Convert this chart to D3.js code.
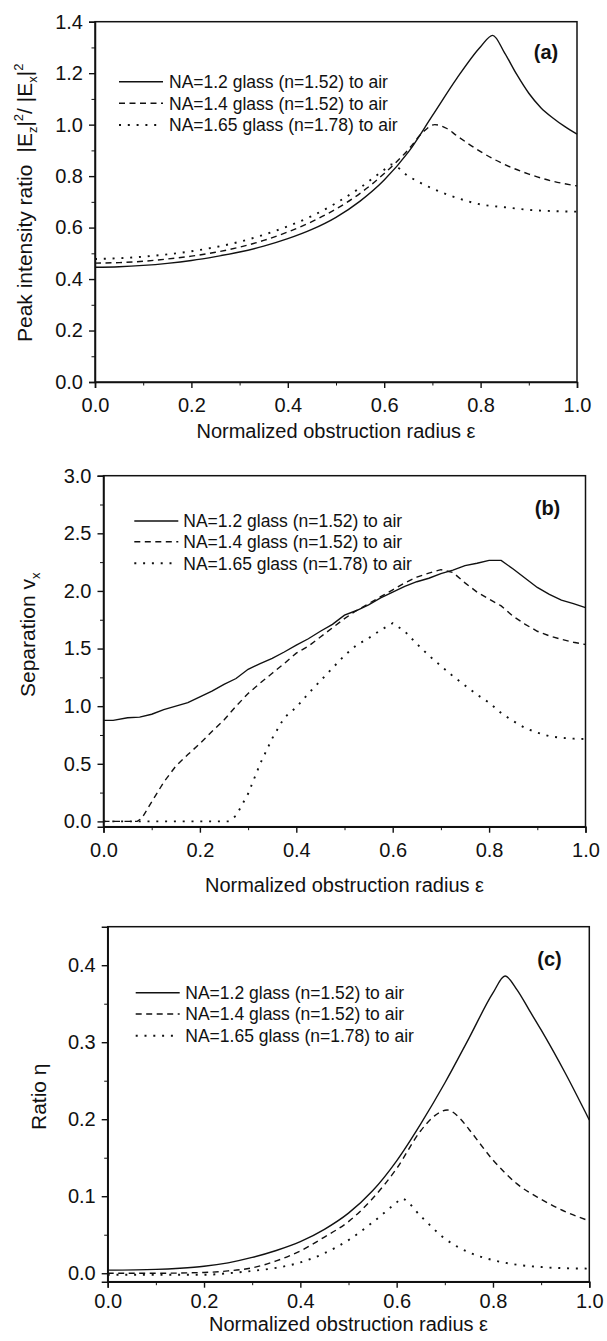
<!DOCTYPE html>
<html>
<head>
<meta charset="utf-8">
<script src="https://cdn.jsdelivr.net/npm/d3@7"></script>
<style>
  body { margin: 0; background: #fff; }
  svg { display: block; font-family: "Liberation Sans", Arial, sans-serif; }
  .axis path, .axis line { stroke: #111; }
  .axis text { font-size: 20px; fill: #111; }
</style>
</head>
<body>
<svg id="fig" width="607" height="1341"></svg>
<script>
// legend labels, shared by the three panels
var seriesNames = ["NA=1.2 glass (n=1.52) to air", "NA=1.4 glass (n=1.52) to air", "NA=1.65 glass (n=1.78) to air"];
var xTicks = [0, 0.2, 0.4, 0.6, 0.8, 1.0];
var xMinor = [0.1, 0.3, 0.5, 0.7, 0.9];

// (a) peak intensity ratio
var aSolidX = [0, 0.05, 0.1, 0.15, 0.2, 0.25, 0.3, 0.35, 0.4, 0.45, 0.5, 0.55, 0.6, 0.65, 0.7, 0.75, 0.8, 0.825, 0.85, 0.875, 0.9, 0.925, 0.95, 0.975, 1.0];
var aSolidY = [0.446, 0.448, 0.453, 0.461, 0.472, 0.487, 0.505, 0.528, 0.557, 0.593, 0.640, 0.703, 0.785, 0.893, 1.035, 1.178, 1.303, 1.347, 1.278, 1.195, 1.122, 1.066, 1.026, 0.992, 0.963];
var aDashX = [0, 0.05, 0.1, 0.15, 0.2, 0.25, 0.3, 0.35, 0.4, 0.45, 0.5, 0.55, 0.6, 0.65, 0.68, 0.705, 0.73, 0.75, 0.8, 0.85, 0.9, 0.95, 1.0];
var aDashY = [0.462, 0.464, 0.469, 0.478, 0.489, 0.504, 0.524, 0.550, 0.583, 0.623, 0.672, 0.733, 0.810, 0.903, 0.970, 1.000, 0.985, 0.958, 0.895, 0.845, 0.808, 0.780, 0.762];
var aDotX = [0, 0.05, 0.1, 0.15, 0.2, 0.25, 0.3, 0.35, 0.4, 0.45, 0.5, 0.55, 0.6, 0.615, 0.65, 0.7, 0.75, 0.8, 0.85, 0.9, 0.95, 1.0];
var aDotY = [0.478, 0.481, 0.487, 0.496, 0.508, 0.524, 0.545, 0.572, 0.605, 0.645, 0.695, 0.755, 0.825, 0.845, 0.800, 0.752, 0.716, 0.690, 0.679, 0.669, 0.664, 0.662];
var aYTicks = [0, 0.2, 0.4, 0.6, 0.8, 1.0, 1.2, 1.4];
var aYMinor = [0.1, 0.3, 0.5, 0.7, 0.9, 1.1, 1.3];

// (b) separation
var bSolidX = [0, 0.02, 0.05, 0.075, 0.1, 0.125, 0.15, 0.175, 0.2, 0.225, 0.25, 0.275, 0.3, 0.325, 0.35, 0.375, 0.4, 0.425, 0.45, 0.475, 0.5, 0.525, 0.55, 0.575, 0.6, 0.625, 0.65, 0.675, 0.7, 0.725, 0.75, 0.775, 0.8, 0.825, 0.85, 0.875, 0.9, 0.925, 0.95, 0.975, 1.0];
var bSolidY = [0.877, 0.877, 0.900, 0.905, 0.930, 0.970, 1.000, 1.030, 1.080, 1.130, 1.190, 1.240, 1.320, 1.370, 1.415, 1.470, 1.530, 1.585, 1.650, 1.710, 1.790, 1.830, 1.880, 1.940, 1.990, 2.040, 2.080, 2.110, 2.150, 2.180, 2.220, 2.240, 2.265, 2.265, 2.190, 2.110, 2.030, 1.970, 1.920, 1.890, 1.855];
var bDashX = [0, 0.07, 0.08, 0.1, 0.125, 0.15, 0.175, 0.2, 0.225, 0.25, 0.275, 0.3, 0.325, 0.35, 0.375, 0.4, 0.425, 0.45, 0.475, 0.5, 0.525, 0.55, 0.575, 0.6, 0.625, 0.65, 0.675, 0.7, 0.725, 0.75, 0.775, 0.8, 0.825, 0.85, 0.875, 0.9, 0.925, 0.95, 0.975, 1.0];
var bDashY = [0, 0, 0.03, 0.17, 0.34, 0.48, 0.58, 0.675, 0.78, 0.88, 1.00, 1.11, 1.20, 1.285, 1.37, 1.46, 1.52, 1.60, 1.68, 1.76, 1.83, 1.89, 1.95, 2.01, 2.07, 2.12, 2.155, 2.185, 2.16, 2.07, 1.99, 1.93, 1.87, 1.78, 1.71, 1.65, 1.61, 1.58, 1.555, 1.535];
var bDotX = [0, 0.26, 0.275, 0.3, 0.325, 0.35, 0.375, 0.4, 0.425, 0.45, 0.475, 0.5, 0.525, 0.55, 0.575, 0.6, 0.625, 0.65, 0.675, 0.7, 0.725, 0.75, 0.775, 0.8, 0.825, 0.85, 0.875, 0.9, 0.925, 0.95, 0.975, 1.0];
var bDotY = [0, 0, 0.05, 0.24, 0.50, 0.72, 0.90, 0.99, 1.11, 1.22, 1.33, 1.44, 1.53, 1.59, 1.66, 1.72, 1.65, 1.54, 1.44, 1.35, 1.26, 1.18, 1.10, 1.03, 0.94, 0.87, 0.81, 0.77, 0.74, 0.725, 0.718, 0.715];
var bYTicks = [0, 0.5, 1.0, 1.5, 2.0, 2.5, 3.0];
var bYMinor = [0.25, 0.75, 1.25, 1.75, 2.25, 2.75];

// (c) ratio eta
var cSolidX = [0, 0.1, 0.15, 0.2, 0.25, 0.3, 0.35, 0.4, 0.45, 0.5, 0.55, 0.6, 0.65, 0.7, 0.75, 0.8, 0.825, 0.85, 0.875, 0.9, 0.95, 1.0];
var cSolidY = [0.004, 0.005, 0.0065, 0.009, 0.0135, 0.0205, 0.0295, 0.041, 0.057, 0.078, 0.107, 0.146, 0.194, 0.247, 0.305, 0.364, 0.386, 0.368, 0.342, 0.316, 0.260, 0.199];
var cDashX = [0, 0.1, 0.2, 0.25, 0.3, 0.35, 0.4, 0.45, 0.5, 0.55, 0.6, 0.65, 0.68, 0.705, 0.73, 0.75, 0.8, 0.85, 0.9, 0.95, 1.0];
var cDashY = [0, 0, 0.001, 0.003, 0.007, 0.016, 0.029, 0.047, 0.067, 0.097, 0.136, 0.185, 0.205, 0.212, 0.202, 0.187, 0.147, 0.116, 0.096, 0.080, 0.068];
var cDotX = [0, 0.2, 0.25, 0.3, 0.35, 0.4, 0.45, 0.5, 0.55, 0.6, 0.61, 0.65, 0.7, 0.75, 0.8, 0.85, 0.9, 0.95, 1.0];
var cDotY = [-0.002, -0.002, 0, 0.003, 0.007, 0.014, 0.026, 0.043, 0.066, 0.092, 0.097, 0.074, 0.045, 0.027, 0.017, 0.011, 0.008, 0.0065, 0.006];
var cYTicks = [0, 0.1, 0.2, 0.3, 0.4];
var cYMinor = [0.05, 0.15, 0.25, 0.35];

var dashStyles = [null, "6 4.5", "2 6.8"];
var lineWidths = [1.4, 1.4, 1.9];

var svg = d3.select("#fig");
svg.append("rect").attr("width", 607).attr("height", 1341).attr("fill", "#fff");

var panels = [
    {
        tag: "(a)", box: [95, 577, 382, 21.7], ydom: [0, 1.4], yfmt: ".1f",
        yTicks: aYTicks, yMinor: aYMinor,
        series: [[aSolidX, aSolidY], [aDashX, aDashY], [aDotX, aDotY]],
        legend: { x1: 119, x2: 163, tx: 169, ys: [81.7, 103.3, 125] },
        tagPos: [546, 58.5], tickBase: 412, titleBase: 438,
        ytitle: { x: 31.7, y: 342 }
    },
    {
        tag: "(b)", box: [103.5, 585.5, 826.7, 475.7], ydom: [-0.046, 3.0], yfmt: ".1f",
        yTicks: bYTicks, yMinor: bYMinor,
        series: [[bSolidX, bSolidY], [bDashX, bDashY], [bDotX, bDotY]],
        legend: { x1: 134.3, x2: 178.3, tx: 183.3, ys: [521, 541.7, 563.3] },
        tagPos: [547.5, 515], tickBase: 857, titleBase: 892,
        ytitle: { x: 35, y: 697 }
    },
    {
        tag: "(c)", box: [107.7, 589.3, 1281.7, 926.7], ydom: [-0.011, 0.45], yfmt: ".1f",
        yTicks: cYTicks, yMinor: cYMinor,
        series: [[cSolidX, cSolidY], [cDashX, cDashY], [cDotX, cDotY]],
        legend: { x1: 135.7, x2: 179.7, tx: 185.3, ys: [992.7, 1014, 1035.7] },
        tagPos: [549.5, 966], tickBase: 1308, titleBase: 1331,
        ytitle: { x: 45.7, y: 1130 }
    }
];

panels.forEach(function (p, i) { draw_panel(p, i); });

function draw_panel(p, idx) {
    var x = d3.scaleLinear().domain([0, 1]).range([p.box[0], p.box[1]]);
    var y = d3.scaleLinear().domain(p.ydom).range([p.box[2], p.box[3]]);
    var g = svg.append("g");

    // frame
    g.append("rect")
        .attr("x", p.box[0]).attr("y", p.box[3])
        .attr("width", p.box[1] - p.box[0]).attr("height", p.box[2] - p.box[3])
        .attr("fill", "none").attr("stroke", "#111").attr("stroke-width", 1.5);

    // x axis, major + minor
    var gx = g.append("g").attr("class", "axis").attr("transform", "translate(0," + p.box[2] + ")")
        .call(d3.axisBottom(x).tickValues(xTicks).tickSize(6).tickPadding(8).tickFormat(d3.format(".1f")));
    gx.select(".domain").attr("stroke-width", 1.5);
    gx.selectAll(".tick line").attr("stroke-width", 1.4);
    gx.selectAll(".tick text").attr("dy", null).attr("y", p.tickBase - p.box[2]);
    g.append("g").attr("class", "axis").attr("transform", "translate(0," + p.box[2] + ")")
        .call(d3.axisBottom(x).tickValues(xMinor).tickSize(3.5).tickFormat(""))
        .call(s => s.select(".domain").remove());

    // y axis, major + minor
    var gy = g.append("g").attr("class", "axis").attr("transform", "translate(" + p.box[0] + ",0)")
        .call(d3.axisLeft(y).tickValues(p.yTicks).tickSize(6).tickPadding(6).tickFormat(d3.format(p.yfmt)));
    gy.select(".domain").attr("stroke-width", 1.5);
    gy.selectAll(".tick line").attr("stroke-width", 1.4);
    g.append("g").attr("class", "axis").attr("transform", "translate(" + p.box[0] + ",0)")
        .call(d3.axisLeft(y).tickValues(p.yMinor).tickSize(3.5).tickFormat(""))
        .call(s => s.select(".domain").remove());

    // curves
    var line = d3.line().x(d => x(d[0])).y(d => y(d[1])).curve(idx == 1 ? d3.curveLinear : d3.curveMonotoneX);
    p.series.forEach(function (s, k) {
        var pts = s[0].map((v, j) => [v, s[1][j]]);
        g.append("path").datum(pts)
            .attr("d", line)
            .attr("fill", "none").attr("stroke", "#111").attr("stroke-width", lineWidths[k])
            .attr("stroke-dasharray", dashStyles[k]);
    });

    // legend
    seriesNames.forEach(function (name, k) {
        var ly = p.legend.ys[k];
        g.append("line")
            .attr("x1", p.legend.x1).attr("x2", p.legend.x2).attr("y1", ly).attr("y2", ly)
            .attr("stroke", "#111").attr("stroke-width", lineWidths[k])
            .attr("stroke-dasharray", dashStyles[k]);
        g.append("text").attr("x", p.legend.tx).attr("y", ly + 6.3)
            .attr("font-size", "17.5px").attr("fill", "#111").text(name);
    });

    // panel tag
    g.append("text").attr("x", p.tagPos[0]).attr("y", p.tagPos[1])
        .attr("text-anchor", "middle").attr("font-size", "20px").attr("font-weight", "bold")
        .attr("fill", "#111").text(p.tag);

    // x title
    g.append("text").attr("x", (p.box[0] + p.box[1]) / 2).attr("y", p.titleBase)
        .attr("text-anchor", "middle").attr("font-size", "20px").attr("fill", "#111")
        .text("Normalized obstruction radius \u03b5");

    // y title
    var yt = g.append("text")
        .attr("transform", "translate(" + p.ytitle.x + "," + p.ytitle.y + ") rotate(-90)")
        .attr("font-size", "21px").attr("fill", "#111");
    if (idx == 0) {
        yt.append("tspan").text("Peak intensity ratio");
        yt.append("tspan").attr("dx", 12).text("|E");
        yt.append("tspan").attr("dy", 5).attr("font-size", "13px").text("z");
        yt.append("tspan").attr("dy", -5).text("|");
        yt.append("tspan").attr("dy", -9).attr("font-size", "13px").text("2");
        yt.append("tspan").attr("dy", 9).text("/ |E");
        yt.append("tspan").attr("dy", 5).attr("font-size", "13px").text("x");
        yt.append("tspan").attr("dy", -5).text("|");
        yt.append("tspan").attr("dy", -9).attr("font-size", "13px").text("2");
    } else if (idx == 1) {
        yt.append("tspan").text("Separation v");
        yt.append("tspan").attr("dy", 5).attr("font-size", "13px").text("x");
    } else {
        yt.text("Ratio \u03b7");
    }
}
</script>
</body>
</html>
